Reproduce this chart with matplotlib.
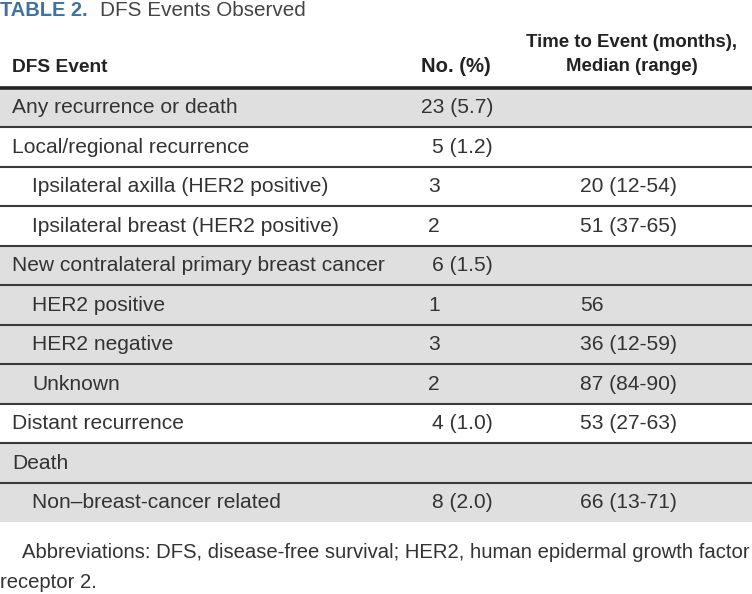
import matplotlib
matplotlib.use("Agg")
import matplotlib.pyplot as plt
from matplotlib import font_manager

# ---- data ----
title_label = "TABLE 2."
title_text = "DFS Events Observed"
col_headers = ["DFS Event", "No. (%)", "Time to Event (months),\nMedian (range)"]
events = ["Any recurrence or death", "Local/regional recurrence",
          "Ipsilateral axilla (HER2 positive)", "Ipsilateral breast (HER2 positive)",
          "New contralateral primary breast cancer", "HER2 positive", "HER2 negative",
          "Unknown", "Distant recurrence", "Death", "Non\u2013breast-cancer related"]
indent_level = [0, 0, 1, 1, 0, 1, 1, 1, 0, 0, 1]
group_id = [0, 1, 1, 1, 2, 2, 2, 2, 3, 4, 4]
counts = ["23 (5.7)", "5 (1.2)", "3", "2", "6 (1.5)", "1", "3", "2", "4 (1.0)", "", "8 (2.0)"]
times = ["", "", "20 (12-54)", "51 (37-65)", "", "56", "36 (12-59)", "87 (84-90)",
         "53 (27-63)", "", "66 (13-71)"]
footnote_1 = "Abbreviations: DFS, disease-free survival; HER2, human epidermal growth factor"
footnote_2 = "receptor 2."

names = {f.name for f in font_manager.fontManager.ttflist}
FONT = "Liberation Sans Narrow" if "Liberation Sans Narrow" in names else (
    "DejaVu Sans Condensed" if "DejaVu Sans Condensed" in names else "Liberation Sans")
plt.rcParams["font.family"] = [FONT, "DejaVu Sans"]

W, H = 752, 594
fig = plt.figure(figsize=(W / 100, H / 100), dpi=100)
ax = fig.add_axes([0, 0, 1, 1])
ax.set_xlim(0, W)
ax.set_ylim(H, 0)
ax.axis("off")

TXT = "#333333"
GRAY = "#e0dfe0"
LINE = "#3a3a3a"
BLUE = "#3f72a3"
FS = 15.1
HFS = 13.4

# title
ax.text(0, 11, title_label, color=BLUE, fontsize=14.4, fontweight="bold",
        va="center", ha="left")
ax.text(100, 11, title_text, color="#444444", fontsize=14.9, va="center", ha="left")

# header
ax.text(12, 68, col_headers[0], fontsize=13.8, fontweight="bold", color="#222222",
        va="center", ha="left")
ax.text(491, 67, col_headers[1], fontsize=14.6, fontweight="bold", color="#222222",
        va="center", ha="right")
ax.text(632, 54.5, col_headers[2], fontsize=HFS, fontweight="bold", color="#222222",
        va="center", ha="center", linespacing=1.6, multialignment="center")

top = 87.5
rh = 39.5
n = len(events)
for i in range(n):
    y0 = top + i * rh
    if group_id[i] % 2 == 0:
        ax.add_patch(plt.Rectangle((0, y0), W, rh, color=GRAY, lw=0, zorder=0))
    yc = y0 + rh / 2 + 0.5
    ax.text(12 + 20 * indent_level[i], yc, events[i], fontsize=FS, color=TXT,
            va="center", ha="left")
    c = counts[i]
    if "(" in c:
        ax.text(493, yc, c, fontsize=FS, color=TXT, va="center", ha="right")
    elif c:
        ax.text(428, yc, c, fontsize=FS, color=TXT, va="center", ha="left")
    if times[i]:
        ax.text(580, yc, times[i], fontsize=FS, color=TXT, va="center", ha="left")
    if i > 0:
        ax.plot([0, W], [y0, y0], color=LINE, lw=1.5, solid_capstyle="butt", zorder=2)

ax.plot([0, W], [top, top], color="#222222", lw=2.6, solid_capstyle="butt", zorder=3)

ax.text(22, 553, footnote_1, fontsize=14.6, color=TXT, va="center", ha="left")
ax.text(0, 582, footnote_2, fontsize=14.6, color=TXT, va="center", ha="left")

fig.savefig("out.png", dpi=100)
